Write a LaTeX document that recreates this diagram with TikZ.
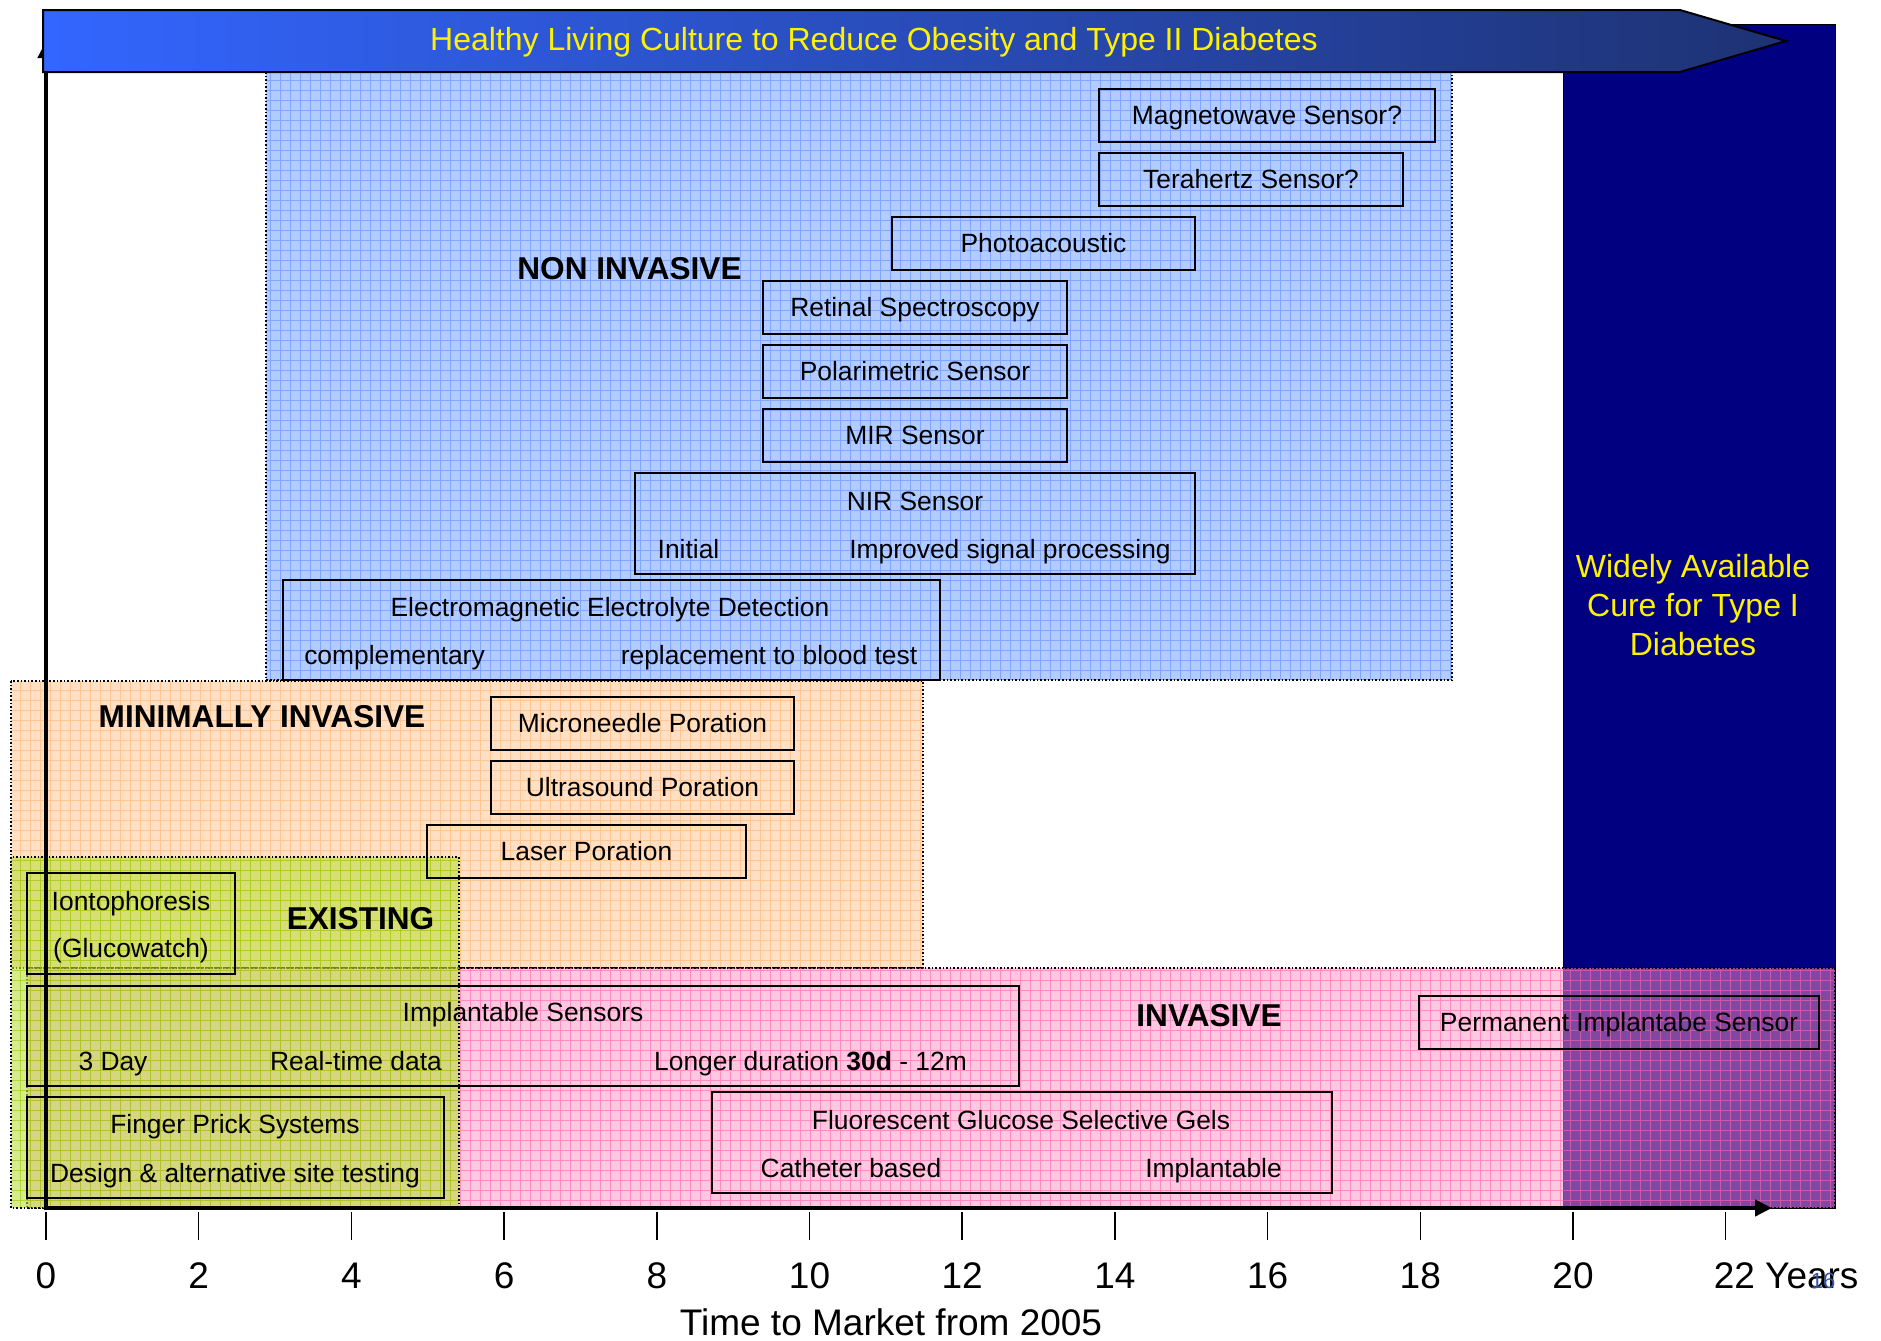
\documentclass[tikz,border=0pt]{standalone}
\usepackage{fontspec}
\setmainfont{Liberation Sans}
\usetikzlibrary{arrows.meta}

\definecolor{nonfill}{RGB}{179,204,255}
\definecolor{nongrid}{RGB}{128,166,255}
\definecolor{minfill}{RGB}{255,224,196}
\definecolor{mingrid}{RGB}{255,198,145}
\definecolor{invfill}{RGB}{255,145,195}
\definecolor{invgrid}{RGB}{255,100,175}
\definecolor{exfill}{RGB}{188,222,63}
\definecolor{exgrid}{RGB}{150,200,0}
\definecolor{curenavy}{RGB}{0,0,128}
\definecolor{hdrleft}{RGB}{51,102,255}
\definecolor{hdrright}{RGB}{30,50,115}
\definecolor{slideblue}{RGB}{50,85,165}

\tikzset{every picture/.style={line width=0.75pt}}
\tikzset{
  region/.style={draw=black, densely dotted, line width=0.8pt},
  tbox/.style={draw=black, line width=1pt, inner sep=0pt},
  txt/.style={font=\fontsize{13.2}{15}\selectfont, inner sep=0pt, text height=12.2pt, text depth=2.8pt},
  zone/.style={font=\bfseries\fontsize{15.8}{19}\selectfont, inner sep=0pt, text height=14.6pt, text depth=3.3pt},
  hdrtext/.style={font=\fontsize{16}{19.5}\selectfont, text=yellow, inner sep=0pt, text height=14.8pt, text depth=3.4pt},
  curetext/.style={font=\fontsize{16}{19.5}\selectfont, text=yellow, align=center, inner sep=0pt},
  axlabel/.style={font=\fontsize{18.5}{22}\selectfont, inner sep=0pt, text height=17.1pt, text depth=3.9pt},
  axis/.style={line width=2.25pt, {Triangle[length=8.5pt,width=8pt]}-{Triangle[length=8.5pt,width=8pt]}},
  tickline/.style={line width=0.75pt}
}

\begin{document}
\begin{tikzpicture}[x=0.5pt,y=0.5pt,yscale=-1,xscale=1]
\useasboundingbox (0,0) rectangle (1881,1340);

%Shape: Rectangle - non invasive region
\fill[nonfill] (266,72) rectangle (1452,680);
\draw[nongrid, line width=0.5pt, step=10] (266,72) grid (1452,680);
\draw[region] (266,72) rectangle (1452,680);

%Shape: Rectangle - minimally invasive region
\fill[minfill] (11,681) rectangle (923,968);
\draw[mingrid, line width=0.5pt, step=10] (11,681) grid (923,968);
\draw[region] (11,681) rectangle (923,968);

%Shape: Rectangle - cure block
\draw[fill=curenavy, line width=0.5pt] (1563,24) rectangle (1835,1208);

%Shape: Rectangle - invasive region
\fill[invfill, fill opacity=0.5] (27,968) rectangle (1835,1208);
\draw[invgrid, draw opacity=0.6, line width=0.5pt, step=10] (27,968) grid (1835,1208);
\draw[region] (27,968) rectangle (1835,1208);

%Shape: Rectangle - existing region
\fill[exfill, fill opacity=0.6] (11,857) rectangle (459,1208);
\draw[exgrid, draw opacity=0.6, line width=0.5pt, step=10] (11,857) grid (459,1208);
\draw[region] (11,857) rectangle (459,1208);

%Straight Lines - axes
\coordinate (ytop) at (46,41);
\coordinate (origin) at (46,1208);
\coordinate (xend) at (1772,1208);
\draw[axis] (ytop) -- (origin) -- (xend);

\foreach \yr in {0,2,...,22}
  \draw[tickline] (46+76.35*\yr,1212) -- (46+76.35*\yr,1240);
\foreach \yr in {0,2,...,20}
  \node[axlabel] (yr\yr) at (46+76.35*\yr,1275) {\yr};
\node[axlabel, anchor=west] (yr22) at (1713,1275) {22 Years};
\node[axlabel] (timeaxis) at (891,1322) {Time to Market from 2005};
\node[font=\fontsize{11}{13}\selectfont, text=slideblue, inner sep=0pt] (slideno) at (1823,1281) {16};

%Flowchart: Pentagon arrow - header
\draw[line width=1pt, left color=hdrleft, right color=hdrright] (43,10) -- (1680,10) -- (1786,41) -- (1680,72) -- (43,72) -- cycle;
\node[hdrtext] (culture) at (874,39) {Healthy Living Culture to Reduce Obesity and Type II Diabetes};

%Text - zone titles
\node[zone] (noninv) at (629.5,268.5) {NON INVASIVE};
\node[zone] (mininv) at (262,716.5) {MINIMALLY INVASIVE};
\node[zone] (exist) at (360.5,918.5) {EXISTING};
\node[zone] (inv) at (1209,1015) {INVASIVE};
\node[curetext] (cure) at (1693,605) {Widely Available\\Cure for Type I\\Diabetes};

%Shape: Rectangle - non invasive boxes
\node[tbox, txt, minimum width=168pt, minimum height=26.5pt] (magneto) at (1267,115.5) {Magnetowave Sensor?};
\node[tbox, txt, minimum width=152pt, minimum height=26.5pt] (terahertz) at (1251,179.5) {Terahertz Sensor?};
\node[tbox, txt, minimum width=151.5pt, minimum height=26.5pt] (photo) at (1043.5,243.5) {Photoacoustic};
\node[tbox, txt, minimum width=152pt, minimum height=26.5pt] (retinal) at (915,307.5) {Retinal Spectroscopy};
\node[tbox, txt, minimum width=152pt, minimum height=26.5pt] (polar) at (915,371.5) {Polarimetric Sensor};
\node[tbox, txt, minimum width=152pt, minimum height=26.5pt] (mir) at (915,435.5) {MIR Sensor};

\node[tbox, minimum width=280pt, minimum height=50.5pt] (nir) at (915,523.5) {};
\node[txt] (nirname) at (915,501) {NIR Sensor};
\node[txt] (nirinit) at (688.5,549) {Initial};
\node[txt] (nirimp) at (1010,549) {Improved signal processing};

\node[tbox, minimum width=328.5pt, minimum height=50pt] (emag) at (611.5,630) {};
\node[txt] (emagname) at (610,607) {Electromagnetic Electrolyte Detection};
\node[txt] (emagcomp) at (394.5,655) {complementary};
\node[txt] (emagrep) at (769,655) {replacement to blood test};

%Shape: Rectangle - minimally invasive boxes
\node[tbox, txt, minimum width=151.5pt, minimum height=26.5pt] (micro) at (642.5,723.5) {Microneedle Poration};
\node[tbox, txt, minimum width=151.5pt, minimum height=26.5pt] (ultra) at (642.5,787.5) {Ultrasound Poration};
\node[tbox, txt, minimum width=159.5pt, minimum height=26.5pt] (laser) at (586.5,851.5) {Laser Poration};

%Shape: Rectangle - existing boxes
\node[tbox, minimum width=104pt, minimum height=50.5pt] (ionto) at (131,923.5) {};
\node[txt] (iontoname) at (131,901) {Iontophoresis};
\node[txt] (iontowatch) at (131,948) {(Glucowatch)};

\node[tbox, minimum width=208.5pt, minimum height=50.5pt] (finger) at (235.5,1147.5) {};
\node[txt] (fingername) at (235,1124) {Finger Prick Systems};
\node[txt] (fingersite) at (235,1173) {Design \& alternative site testing};

%Shape: Rectangle - invasive boxes
\node[tbox, minimum width=496pt, minimum height=50pt] (implant) at (523,1036) {};
\node[txt] (implantname) at (523,1012) {Implantable Sensors};
\node[txt] (implantday) at (113,1061) {3 Day};
\node[txt] (implantreal) at (356,1061) {Real-time data};
\node[txt] (implantlong) at (810.5,1061) {Longer duration \textbf{30d} - 12m};

\node[tbox, minimum width=310pt, minimum height=50.5pt] (fluor) at (1022,1142.5) {};
\node[txt] (fluorname) at (1021,1120) {Fluorescent Glucose Selective Gels};
\node[txt] (fluorcath) at (851,1168) {Catheter based};
\node[txt] (fluorimp) at (1213.5,1168) {Implantable};

\node[tbox, txt, minimum width=200pt, minimum height=26.5pt] (perm) at (1619,1022.5) {Permanent Implantabe Sensor};

\end{tikzpicture}
\end{document}
